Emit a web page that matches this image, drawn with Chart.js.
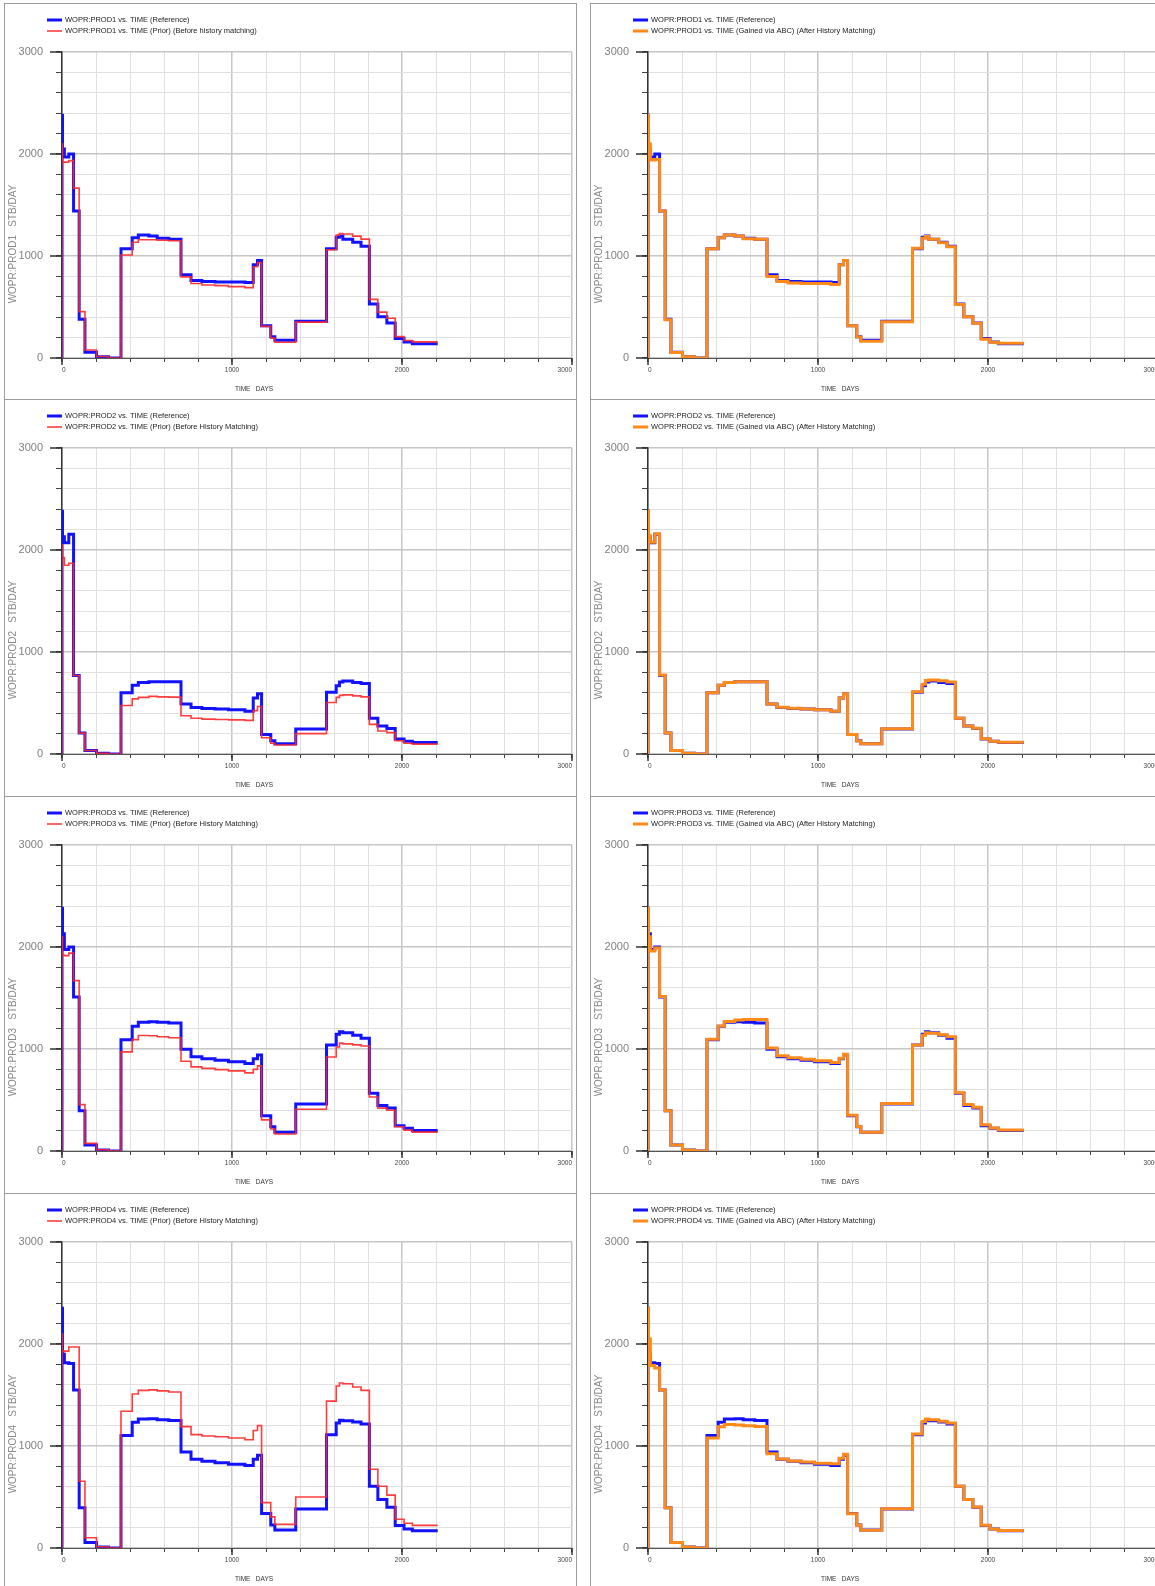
<!DOCTYPE html>
<html>
<head>
<meta charset="utf-8">
<script src="https://cdn.jsdelivr.net/npm/chart.js@4.4.1/dist/chart.umd.min.js"></script>
<style>
  html, body { margin: 0; padding: 0; background: #fff; }
  body { width: 1155px; height: 1586px; position: relative; overflow: hidden; }
  .panel { position: absolute; border: 1px solid #9c9c9c; box-sizing: border-box; background: #fff; }
  .panel canvas { position: absolute; left: 0; top: 0; }
</style>
</head>
<body>
<script>
// report times (days); value[i] holds from days[i] to days[i+1]
var days = [0, 0, 3, 14, 40, 68, 101, 135, 203, 273, 347, 413, 449, 511, 560, 628, 700, 759, 823, 900, 979, 1076, 1125, 1150, 1174, 1228, 1252, 1375, 1556, 1613, 1632, 1652, 1710, 1759, 1808, 1858, 1911, 1960, 2012, 2061, 2210];

var prod1Ref   = [0, 2380, 2050, 1970, 2000, 1440, 380, 56, 12, 0, 1070, 1180, 1205, 1195, 1175, 1165, 815, 760, 750, 745, 745, 740, 915, 955, 317, 209, 173, 360, 1072, 1185, 1195, 1165, 1135, 1095, 530, 405, 343, 190, 157, 140, 140];
var prod1Prior = [0, 2100, 1920, 1920, 1935, 1665, 455, 78, 15, 0, 1010, 1135, 1160, 1160, 1155, 1150, 795, 730, 715, 710, 700, 690, 895, 935, 310, 195, 155, 352, 1062, 1205, 1220, 1215, 1195, 1165, 575, 450, 390, 210, 172, 158, 158];
var prod1Abc   = [0, 2380, 2100, 1940, 1945, 1440, 375, 55, 12, 0, 1070, 1180, 1205, 1195, 1170, 1165, 800, 750, 735, 730, 730, 720, 915, 955, 315, 205, 165, 355, 1075, 1175, 1190, 1165, 1130, 1090, 525, 405, 340, 185, 155, 145, 145];

var prod2Ref   = [0, 2380, 2130, 2070, 2155, 770, 205, 35, 8, 0, 600, 675, 700, 708, 708, 708, 490, 455, 445, 440, 435, 420, 548, 590, 190, 130, 100, 245, 605, 670, 705, 715, 700, 690, 350, 275, 250, 148, 125, 112, 112];
var prod2Prior = [0, 2050, 1925, 1850, 1870, 770, 205, 35, 8, 0, 475, 540, 555, 565, 560, 558, 375, 350, 342, 338, 335, 330, 425, 465, 160, 105, 88, 200, 505, 555, 575, 580, 570, 560, 290, 225, 210, 130, 105, 97, 97];
var prod2Abc   = [0, 2380, 2140, 2075, 2160, 775, 205, 35, 8, 0, 600, 675, 700, 708, 708, 708, 490, 458, 448, 442, 435, 420, 550, 590, 190, 128, 100, 248, 610, 685, 720, 725, 718, 705, 350, 275, 252, 150, 125, 115, 115];

var prod3Ref   = [0, 2380, 2130, 1975, 2000, 1510, 395, 58, 10, 0, 1090, 1222, 1262, 1268, 1262, 1255, 998, 925, 905, 890, 875, 858, 905, 940, 345, 238, 183, 460, 1038, 1145, 1168, 1160, 1135, 1105, 565, 447, 422, 248, 222, 200, 200];
var prod3Prior = [0, 2100, 1920, 1915, 1940, 1670, 455, 75, 12, 0, 972, 1092, 1132, 1130, 1120, 1110, 880, 825, 810, 798, 786, 766, 800, 835, 305, 215, 166, 410, 922, 1020, 1058, 1050, 1040, 1030, 530, 420, 400, 238, 205, 185, 185];
var prod3Abc   = [0, 2380, 2100, 1960, 1990, 1515, 395, 58, 10, 0, 1095, 1225, 1270, 1285, 1288, 1290, 1010, 935, 915, 900, 885, 868, 910, 948, 350, 240, 185, 465, 1040, 1135, 1160, 1155, 1140, 1120, 570, 455, 428, 258, 225, 205, 205];

var prod4Ref   = [0, 2350, 1900, 1815, 1810, 1550, 395, 55, 10, 0, 1104, 1232, 1265, 1268, 1258, 1250, 940, 870, 850, 835, 822, 808, 870, 910, 338, 225, 176, 382, 1110, 1225, 1252, 1248, 1235, 1215, 605, 475, 400, 220, 186, 168, 168];
var prod4Prior = [0, 2100, 1925, 1930, 1970, 1970, 655, 100, 12, 0, 1340, 1510, 1545, 1550, 1540, 1530, 1190, 1112, 1098, 1090, 1078, 1062, 1152, 1200, 445, 305, 232, 500, 1440, 1588, 1618, 1610, 1578, 1545, 772, 605, 518, 282, 242, 222, 222];
var prod4Abc   = [0, 2350, 2050, 1790, 1765, 1550, 395, 55, 10, 0, 1078, 1188, 1212, 1205, 1198, 1190, 925, 872, 852, 842, 832, 825, 880, 920, 335, 222, 175, 385, 1118, 1240, 1265, 1258, 1242, 1225, 605, 475, 402, 222, 186, 172, 172];

var wells = ['PROD1', 'PROD2', 'PROD3', 'PROD4'];
var refSeries = [prod1Ref, prod2Ref, prod3Ref, prod4Ref];
var priorSeries = [prod1Prior, prod2Prior, prod3Prior, prod4Prior];
var abcSeries = [prod1Abc, prod2Abc, prod3Abc, prod4Abc];
var priorNotes = ['(Before history matching)', '(Before History Matching)', '(Before History Matching)', '(Before History Matching)'];
var majorTicks = [0, 1000, 2000, 3000];

var FONT = '"Liberation Sans", Arial, sans-serif';
var rowTops = [3, 399, 796, 1193];
var colLefts = [4, 590];
var PANEL_W = 573;
var PLOT_TOP = 48, PLOT_H = 306, AXIS_W = 57;

// legend, axis titles and long major ticks
var panelText = {
  id: 'panelText',
  afterDraw: function(chart) {
    var o = chart.options.plugins.panelText;
    var ctx = chart.ctx, a = chart.chartArea;
    ctx.save();
    chart.data.datasets.forEach(function(ds, i) {
      var y = 16 + i * 11;
      ctx.strokeStyle = ds.borderColor;
      ctx.lineWidth = ds.borderWidth;
      ctx.beginPath();
      ctx.moveTo(42, y);
      ctx.lineTo(57, y);
      ctx.stroke();
      ctx.fillStyle = '#222';
      ctx.font = '7.5px ' + FONT;
      ctx.textBaseline = 'middle';
      ctx.textAlign = 'left';
      ctx.fillText(ds.label, 60, y);
    });
    ctx.strokeStyle = '#333';
    ctx.lineWidth = 1.5;
    majorTicks.forEach(function(v) {
      var py = chart.scales.y.getPixelForValue(v);
      ctx.beginPath(); ctx.moveTo(a.left - 12, py); ctx.lineTo(a.left, py); ctx.stroke();
      var px = chart.scales.x.getPixelForValue(v);
      ctx.beginPath(); ctx.moveTo(px, a.bottom); ctx.lineTo(px, a.bottom + 7); ctx.stroke();
    });
    ctx.fillStyle = '#333';
    ctx.font = '6.5px ' + FONT;
    ctx.textAlign = 'center';
    ctx.fillText('TIME   DAYS', 249, a.bottom + 31.5);
    ctx.translate(8, 240);
    ctx.rotate(-Math.PI / 2);
    ctx.fillStyle = '#8a8a8a';
    ctx.font = '10px ' + FONT;
    ctx.fillText(o.yTitle, 0, 0);
    ctx.restore();
  }
};

function gridColor(c) {
  return c.tick && c.tick.value % 1000 === 0 ? '#c6c6c6' : '#e0e0e0';
}
function gridWidth(c) {
  return c.tick && c.tick.value % 1000 === 0 ? 1.5 : 1;
}
function majorLabel(v) {
  return v % 1000 === 0 ? String(v) : '';
}

function series(label, vals, color, width, order) {
  return {
    label: label,
    data: days.map(function(d, i) { return { x: d, y: vals[i] }; }),
    borderColor: color,
    backgroundColor: color,
    borderWidth: width,
    stepped: 'before',
    pointRadius: 0,
    fill: false,
    order: order
  };
}

function makePanel(row, col) {
  var top = rowTops[row];
  var next = row < 3 ? rowTops[row + 1] : top + 397;
  var h = next - top + 1;
  var div = document.createElement('div');
  div.className = 'panel';
  div.style.left = colLefts[col] + 'px';
  div.style.top = top + 'px';
  div.style.width = PANEL_W + 'px';
  div.style.height = h + 'px';
  var cv = document.createElement('canvas');
  var cw = PANEL_W - 2, ch = h - 2;
  cv.width = cw; cv.height = ch;
  cv.style.width = cw + 'px'; cv.style.height = ch + 'px';
  div.appendChild(cv);
  document.body.appendChild(div);

  var w = wells[row];
  var ref = series('WOPR:' + w + ' vs. TIME (Reference)', refSeries[row], '#1212ff', 3, 2);
  var other = col === 0
    ? series('WOPR:' + w + ' vs. TIME (Prior) ' + priorNotes[row], priorSeries[row], 'rgba(255,40,40,0.9)', 1.6, 1)
    : series('WOPR:' + w + ' vs. TIME (Gained via ABC) (After History Matching)', abcSeries[row], '#ff8a1a', 3, 1);

  new Chart(cv, {
    type: 'line',
    data: { datasets: [ref, other] },
    plugins: [panelText],
    options: {
      responsive: false,
      animation: false,
      layout: { padding: { top: PLOT_TOP, right: 1, left: 0, bottom: 0 } },
      plugins: {
        legend: { display: false },
        tooltip: { enabled: false },
        panelText: { yTitle: 'WOPR:' + w + '   STB/DAY' }
      },
      scales: {
        x: {
          type: 'linear', min: 0, max: 3000,
          afterFit: function(s) { s.height = ch - PLOT_TOP - PLOT_H; },
          ticks: {
            stepSize: 200, autoSkip: false, maxRotation: 0, align: 'inner', padding: 4,
            color: '#444', font: { size: 6.5, family: FONT }, callback: majorLabel
          },
          grid: { color: gridColor, lineWidth: gridWidth, tickLength: 4, tickColor: '#444' },
          border: { color: '#555', width: 1 }
        },
        y: {
          min: 0, max: 3000,
          afterFit: function(s) { s.width = AXIS_W; },
          ticks: {
            stepSize: 200, autoSkip: false, padding: 13,
            color: '#808080', font: { size: 11, family: FONT }, callback: majorLabel
          },
          grid: { color: gridColor, lineWidth: gridWidth, tickLength: 6, tickColor: '#444' },
          border: { color: '#333', width: 1.5 }
        }
      }
    }
  });
}

for (var r = 0; r < 4; r++) {
  makePanel(r, 0);
  makePanel(r, 1);
}
</script>
</body>
</html>
